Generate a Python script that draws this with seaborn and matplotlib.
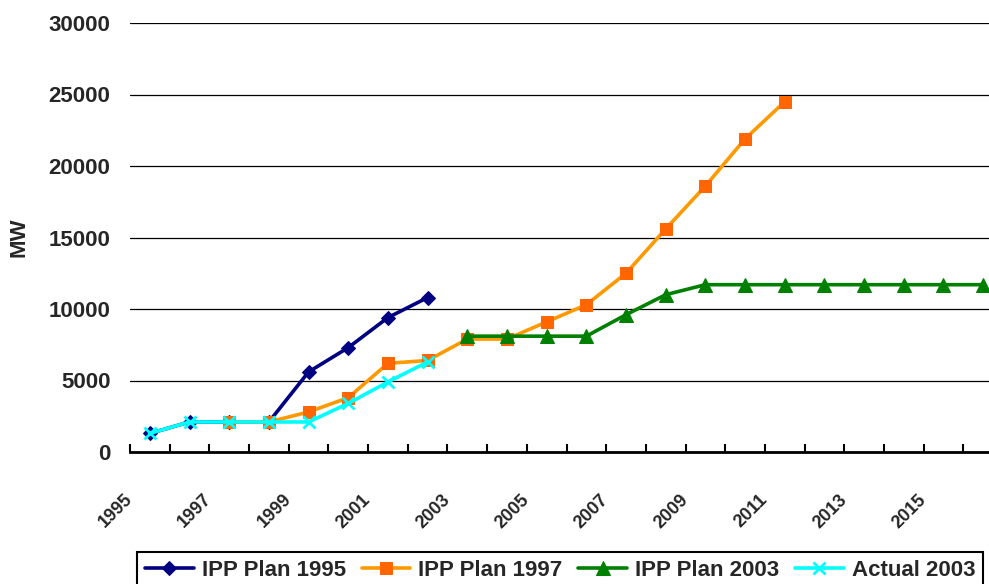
import numpy as np
import pandas as pd
import seaborn as sns
import matplotlib.pyplot as plt
from matplotlib.ticker import FixedLocator
from matplotlib.transforms import ScaledTranslation

# data (MW per year)
years_plan95 = list(range(1995, 2003))
plan_1995 = [1300, 2100, 2100, 2100, 5600, 7300, 9400, 10800]

years_plan97 = list(range(1997, 2012))
plan_1997 = [2100, 2100, 2800, 3800, 6200, 6400, 7900, 7900, 9100, 10300,
             12500, 15600, 18600, 21900, 24500]

years_plan03 = list(range(2003, 2017))
plan_2003 = [8100, 8100, 8100, 8100, 9600, 11000, 11700, 11700, 11700,
             11700, 11700, 11700, 11700, 11700]

years_actual = list(range(1995, 2003))
actual_2003 = [1300, 2100, 2100, 2100, 2100, 3400, 4900, 6300]

all_years = list(range(1995, 2017))
tick_years = list(range(1995, 2017, 2))
y_ticks = [0, 5000, 10000, 15000, 20000, 25000, 30000]

sns.set_style('white')
plt.rcParams['font.family'] = ['Liberation Sans', 'DejaVu Sans']
plt.rcParams['font.weight'] = 'bold'
plt.rcParams['xtick.direction'] = 'in'

fig = plt.figure(figsize=(9.89, 5.84), dpi=100)
# plot area runs a little past the right edge of the picture
ax = fig.add_axes([130 / 989, 132 / 584, 873 / 989, 429 / 584])

series = [
    ('IPP Plan 1995', years_plan95, plan_1995,
     dict(color='#000080', marker='D', markersize=7,
          markerfacecolor='#000080', markeredgecolor='#000080')),
    ('IPP Plan 1997', years_plan97, plan_1997,
     dict(color='#FF9900', marker='s', markersize=8,
          markerfacecolor='#FF6600', markeredgecolor='#FF6600')),
    ('IPP Plan 2003', years_plan03, plan_2003,
     dict(color='#008000', marker='^', markersize=10,
          markerfacecolor='#008000', markeredgecolor='#008000')),
    ('Actual 2003', years_actual, actual_2003,
     dict(color='#00FFFF', marker='x', markersize=9,
          markeredgecolor='#00FFFF', markeredgewidth=2)),
]

for name, yrs, vals, style in series:
    df = pd.DataFrame({'Year': yrs, 'MW': vals})
    sns.lineplot(data=df, x='Year', y='MW', ax=ax, label=name,
                 linewidth=2.6, **style)

# axes
ax.set_xlim(all_years[0] - 0.5, all_years[-1] + 0.5)
ax.set_ylim(0, 30000)
ax.set_yticks(y_ticks)
ax.set_xticks(tick_years)
ax.set_xticklabels([str(y) for y in tick_years])
ax.xaxis.set_minor_locator(FixedLocator(np.arange(1994.5, 2017, 1)))
ax.yaxis.grid(True, color='black', linewidth=0.9)
ax.xaxis.grid(False)
ax.set_axisbelow(True)

for side in ['top', 'right', 'left']:
    ax.spines[side].set_visible(False)
ax.spines['bottom'].set_linewidth(2)
ax.spines['bottom'].set_color('black')

ax.tick_params(axis='y', left=False, length=0, pad=14, labelsize=16)
ax.tick_params(axis='x', which='major', bottom=False, length=0, pad=0,
               labelsize=13)
ax.tick_params(axis='x', which='minor', bottom=True, direction='in',
               length=6, width=1.5, color='black')

offset = ScaledTranslation(-0.20, -0.45, fig.dpi_scale_trans)
for lbl in ax.get_xticklabels():
    lbl.set_rotation(45)
    lbl.set_ha('right')
    lbl.set_va('center')
    lbl.set_rotation_mode('anchor')
    lbl.set_transform(lbl.get_transform() + offset)

ax.set_xlabel('')
ax.set_ylabel('MW', fontsize=16, fontweight='bold', labelpad=14)

handles, labels = ax.get_legend_handles_labels()
leg = ax.legend(handles, labels, loc='upper left',
                bbox_to_anchor=(137 / 989, 32 / 584),
                bbox_transform=fig.transFigure, ncol=4,
                prop={'size': 16, 'weight': 'bold'},
                frameon=True, fancybox=False, edgecolor='black',
                framealpha=1, handlelength=2.2, handletextpad=0.36,
                columnspacing=0.7, borderpad=0.36, borderaxespad=0)
leg.get_frame().set_linewidth(1.5)

fig.savefig('out.png', dpi=100)
